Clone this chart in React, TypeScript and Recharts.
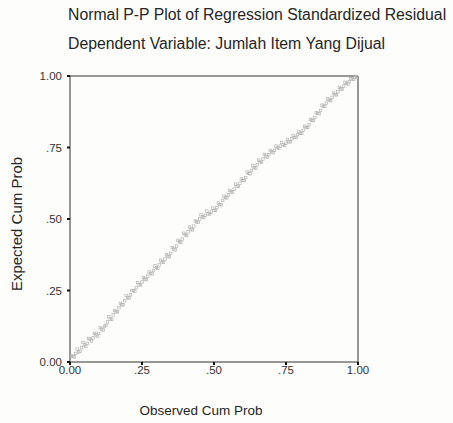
import { ScatterChart, Scatter, XAxis, YAxis, ReferenceLine } from 'recharts'

// observed cumulative probability (x) and expected cumulative probability (y)
const observed = [
  0.01, 0.02, 0.03, 0.04, 0.05, 0.06, 0.07, 0.08, 0.09, 0.1,
  0.11, 0.12, 0.13, 0.14, 0.15, 0.16, 0.17, 0.18, 0.19, 0.2,
  0.21, 0.22, 0.23, 0.24, 0.25, 0.26, 0.27, 0.28, 0.29, 0.3,
  0.31, 0.32, 0.33, 0.34, 0.35, 0.36, 0.37, 0.38, 0.39, 0.4,
  0.41, 0.42, 0.43, 0.44, 0.45, 0.46, 0.47, 0.48, 0.49, 0.5,
  0.51, 0.52, 0.53, 0.54, 0.55, 0.56, 0.57, 0.58, 0.59, 0.6,
  0.61, 0.62, 0.63, 0.64, 0.65, 0.66, 0.67, 0.68, 0.69, 0.7,
  0.71, 0.72, 0.73, 0.74, 0.75, 0.76, 0.77, 0.78, 0.79, 0.8,
  0.81, 0.82, 0.83, 0.84, 0.85, 0.86, 0.87, 0.88, 0.89, 0.9,
  0.91, 0.92, 0.93, 0.94, 0.95, 0.96, 0.97, 0.98, 0.99,
]

const expected = [
  0.02, 0.03, 0.035, 0.05, 0.06, 0.065, 0.08, 0.085, 0.095, 0.1,
  0.115, 0.125, 0.14, 0.15, 0.165, 0.175, 0.19, 0.2, 0.215, 0.225,
  0.235, 0.25, 0.26, 0.27, 0.28, 0.29, 0.3, 0.31, 0.32, 0.33,
  0.34, 0.35, 0.36, 0.37, 0.38, 0.395, 0.405, 0.42, 0.43, 0.445,
  0.455, 0.465, 0.475, 0.49, 0.5, 0.508, 0.513, 0.518, 0.524, 0.53,
  0.54, 0.55, 0.565, 0.575, 0.585, 0.595, 0.605, 0.615, 0.625, 0.635,
  0.645, 0.66, 0.67, 0.68, 0.69, 0.7, 0.71, 0.72, 0.725, 0.735,
  0.74, 0.75, 0.755, 0.76, 0.765, 0.77, 0.78, 0.785, 0.795, 0.8,
  0.81, 0.82, 0.83, 0.845, 0.855, 0.87, 0.88, 0.895, 0.905, 0.915,
  0.925, 0.935, 0.945, 0.955, 0.965, 0.975, 0.98, 0.99, 0.995,
]

// second run of cases, between the first ones
const observedB = [
  0.005, 0.015, 0.025, 0.035, 0.045, 0.055, 0.065, 0.075, 0.085, 0.095,
  0.105, 0.115, 0.125, 0.135, 0.145, 0.155, 0.165, 0.175, 0.185, 0.195,
  0.205, 0.215, 0.225, 0.235, 0.245, 0.255, 0.265, 0.275, 0.285, 0.295,
  0.305, 0.315, 0.325, 0.335, 0.345, 0.355, 0.365, 0.375, 0.385, 0.395,
  0.405, 0.415, 0.425, 0.435, 0.445, 0.455, 0.465, 0.475, 0.485, 0.495,
  0.505, 0.515, 0.525, 0.535, 0.545, 0.555, 0.565, 0.575, 0.585, 0.595,
  0.605, 0.615, 0.625, 0.635, 0.645, 0.655, 0.665, 0.675, 0.685, 0.695,
  0.705, 0.715, 0.725, 0.735, 0.745, 0.755, 0.765, 0.775, 0.785, 0.795,
  0.805, 0.815, 0.825, 0.835, 0.845, 0.855, 0.865, 0.875, 0.885, 0.895,
  0.905, 0.915, 0.925, 0.935, 0.945, 0.955, 0.965, 0.975, 0.985, 0.995,
]

const expectedB = [
  0.02, 0.018, 0.045, 0.038, 0.068, 0.055, 0.082, 0.074, 0.1, 0.09,
  0.12, 0.112, 0.128, 0.158, 0.15, 0.18, 0.176, 0.205, 0.2, 0.232,
  0.224, 0.25, 0.248, 0.278, 0.27, 0.295, 0.288, 0.315, 0.308, 0.336,
  0.328, 0.356, 0.348, 0.375, 0.368, 0.4, 0.392, 0.425, 0.418, 0.45,
  0.442, 0.472, 0.462, 0.493, 0.488, 0.515, 0.505, 0.528, 0.518, 0.538,
  0.53, 0.556, 0.55, 0.58, 0.574, 0.6, 0.594, 0.622, 0.614, 0.64,
  0.634, 0.664, 0.658, 0.686, 0.678, 0.706, 0.698, 0.726, 0.716, 0.74,
  0.732, 0.755, 0.748, 0.768, 0.758, 0.778, 0.77, 0.792, 0.785, 0.806,
  0.8, 0.824, 0.82, 0.848, 0.844, 0.872, 0.868, 0.898, 0.894, 0.92,
  0.914, 0.94, 0.934, 0.96, 0.954, 0.978, 0.972, 0.99, 0.988, 0.997,
]

const ticks = [0, 0.25, 0.5, 0.75, 1]
const tickLabels = ['0.00', '.25', '.50', '.75', '1.00']

const points = [
  ...observed.map((x, i) => ({ x, y: expected[i] })),
  ...observedB.map((x, i) => ({ x, y: expectedB[i] })),
]

const font = '"Liberation Sans", Arial, sans-serif'
const fmt = (v: number) => tickLabels[ticks.indexOf(v)] ?? String(v)

function SquareDot(props: any) {
  const { cx, cy } = props
  return (
    <rect x={cx - 1.25} y={cy - 1.25} width={2.5} height={2.5} fill="none" stroke="#b4b4b4" strokeWidth={0.7} />
  )
}

export default function App() {
  return (
    <div
      style={{
        position: 'absolute',
        left: 0,
        top: 0,
        width: 453,
        height: 423,
        background: '#fdfdfb',
        fontFamily: font,
        color: '#262626',
      }}
    >
      <ScatterChart width={453} height={423} margin={{ top: 76, right: 95, bottom: 31, left: 30 }}>
        <XAxis
          type="number"
          dataKey="x"
          domain={[0, 1]}
          ticks={ticks}
          tickFormatter={fmt}
          height={30}
          tickSize={3}
          tickMargin={1}
          stroke="#333"
          tick={{ fontSize: 11.5, fill: '#333', fontFamily: font }}
          tickLine={{ stroke: '#111', strokeWidth: 2 }}
        />
        <YAxis
          type="number"
          dataKey="y"
          domain={[0, 1]}
          ticks={ticks}
          tickFormatter={fmt}
          width={40}
          tickSize={3}
          tickMargin={5}
          stroke="#333"
          tick={{ fontSize: 11.5, fill: '#333', fontFamily: font }}
          tickLine={{ stroke: '#111', strokeWidth: 2 }}
        />
        <ReferenceLine y={1} stroke="#333" />
        <ReferenceLine x={1} stroke="#333" />
        <Scatter data={points} shape={<SquareDot />} isAnimationActive={false} />
      </ScatterChart>
      <div style={{ position: 'absolute', left: 68, top: 6, fontSize: 15.8, whiteSpace: 'nowrap' }}>
        Normal P-P Plot of Regression Standardized Residual
      </div>
      <div style={{ position: 'absolute', left: 68, top: 35, fontSize: 15.8, whiteSpace: 'nowrap' }}>
        Dependent Variable: Jumlah Item Yang Dijual
      </div>
      <div
        style={{
          position: 'absolute',
          left: 201,
          top: 403,
          fontSize: 13.5,
          whiteSpace: 'nowrap',
          transform: 'translateX(-50%)',
        }}
      >
        Observed Cum Prob
      </div>
      <div
        style={{
          position: 'absolute',
          left: 16,
          top: 224,
          fontSize: 15,
          whiteSpace: 'nowrap',
          transform: 'translate(-50%, -50%) rotate(-90deg)',
        }}
      >
        Expected Cum Prob
      </div>
    </div>
  )
}
